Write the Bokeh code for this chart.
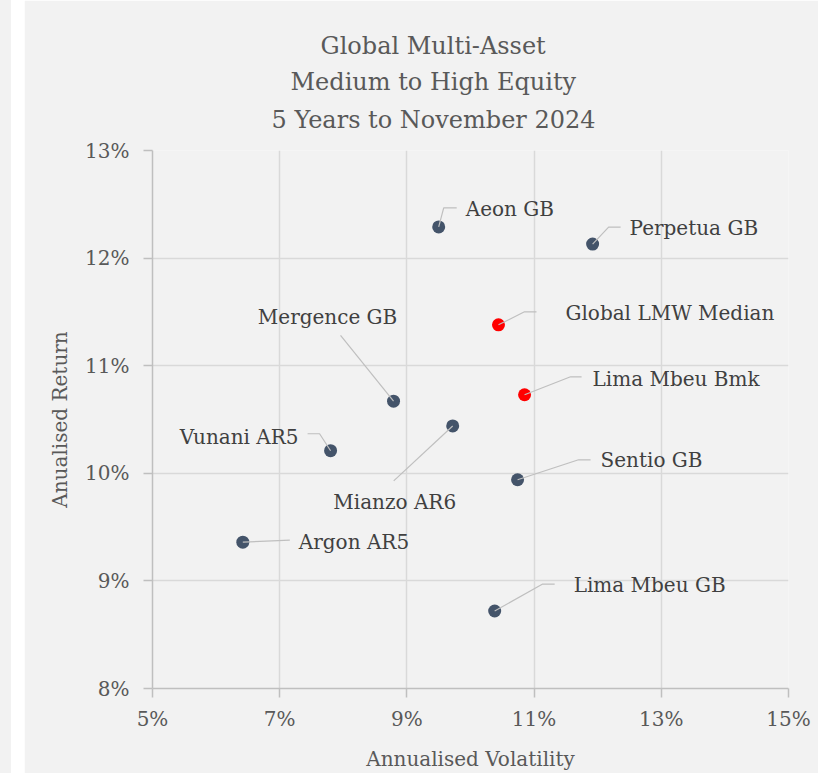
from bokeh.plotting import figure
from bokeh.models import ColumnDataSource, Title, FixedTicker, PrintfTickFormatter, Spacer
from bokeh.layouts import row
from bokeh.core.properties import value
from bokeh.embed import file_html
from bokeh.resources import INLINE

# ---- data ----
names = ["Aeon GB", "Perpetua GB", "Global LMW Median", "Lima Mbeu Bmk", "Mergence GB",
         "Mianzo AR6", "Vunani AR5", "Sentio GB", "Argon AR5", "Lima Mbeu GB"]
volatility = [9.50, 11.92, 10.44, 10.85, 8.79, 9.72, 7.80, 10.74, 6.42, 10.38]
returns = [12.29, 12.13, 11.38, 10.73, 10.67, 10.44, 10.21, 9.94, 9.36, 8.72]
is_reference = [False, False, True, True, False, False, False, False, False, False]

x_ticks = [5, 7, 9, 11, 13, 15]
y_ticks = [8, 9, 10, 11, 12, 13]
title_lines = ["Global Multi-Asset", "Medium to High Equity", "5 Years to November 2024"]
x_title = "Annualised Volatility"
y_title = "Anualised Return"

# ---- styling / label layout (pixel offsets from each point, screen y down) ----
label_offsets = [(27, -18), (37, -16), (67, -12), (68, -16), (-66, -84),
                 (-58, 76), (-32, -14), (83, -20), (56, 0), (79, -26)]
label_align = ["left", "left", "left", "left", "center",
               "center", "right", "left", "left", "left"]
leader_paths = [
    [(0, 0), (5, -19), (18, -19)],
    [(0, 0), (16, -17), (28, -17)],
    [(0, 0), (26, -13), (38, -13)],
    [(0, 0), (46, -18), (57, -18)],
    [(0, 0), (-53, -66)],
    [(0, 0), (-59, 55)],
    [(0, 0), (-11, -17), (-23, -17)],
    [(0, 0), (61, -20), (73, -20)],
    [(0, 0), (47, -2)],
    [(0, 0), (48, -27), (60, -27)],
]
# title line placement: (left offset from frame, standoff), listed top to bottom
title_place = [(168, 30), (138, -17), (119, 33)]

FONT = "DejaVu Serif"
W, H = 794, 773
ML, MR, MT, MB = 128, 30, 150, 84
XMIN, XMAX, YMIN, YMAX = 5, 15, 8, 13
FW, FH = W - ML - MR, H - MT - MB
XPX = FW / (XMAX - XMIN)
YPX = FH / (YMAX - YMIN)
BG = "#f2f2f2"

p = figure(width=W, height=H, output_backend="svg", toolbar_location=None, title=None,
           x_range=(XMIN, XMAX), y_range=(YMIN, YMAX),
           min_border_left=ML, min_border_right=MR, min_border_top=MT, min_border_bottom=MB)
p.background_fill_color = BG
p.border_fill_color = BG
p.outline_line_color = None

for ax, ticks in ((p.xaxis, x_ticks), (p.yaxis, y_ticks)):
    ax.ticker = FixedTicker(ticks=ticks)
    ax.formatter = PrintfTickFormatter(format="%d%%")
    ax.axis_line_color = "#bfbfbf"
    ax.axis_line_width = 1.5
    ax.major_tick_line_color = "#bfbfbf"
    ax.major_tick_line_width = 1.5
    ax.major_tick_out = 9
    ax.major_tick_in = 0
    ax.minor_tick_line_color = None
    ax.major_label_text_font = FONT
    ax.major_label_text_font_size = "20px"
    ax.major_label_text_color = "#595959"
    ax.axis_label_text_font = FONT
    ax.axis_label_text_font_size = "20px"
    ax.axis_label_text_color = "#595959"
    ax.axis_label_text_font_style = "normal"
    ax.axis_label_text_line_height = 1.0
p.xaxis.major_label_text_line_height = 1.0
p.xaxis.major_label_standoff = 9
p.yaxis.major_label_standoff = 14
p.xaxis.axis_label = x_title
p.yaxis.axis_label = y_title
p.xaxis.axis_label_standoff = 13
p.yaxis.axis_label_standoff = 10

p.xgrid.ticker = FixedTicker(ticks=x_ticks)
p.ygrid.ticker = FixedTicker(ticks=y_ticks)
for g in (p.xgrid, p.ygrid):
    g.grid_line_color = "#d9d9d9"
    g.grid_line_width = 1.5

colors = ["#ff0000" if r else "#44546a" for r in is_reference]
src = ColumnDataSource(dict(x=volatility, y=returns, name=names, color=colors,
                            dx=[o[0] for o in label_offsets], dy=[o[1] for o in label_offsets],
                            align=label_align))

p.scatter("x", "y", source=src, size=13, fill_color="color", line_color=None)

xs = [[v + dx / XPX for dx, dy in path] for v, path in zip(volatility, leader_paths)]
ys = [[r - dy / YPX for dx, dy in path] for r, path in zip(returns, leader_paths)]
p.multi_line(xs, ys, line_color="#bfbfbf", line_width=1.2)

p.text("x", "y", text="name", source=src, x_offset="dx", y_offset="dy",
       text_align="align", text_baseline="middle", text_font=value(FONT),
       text_font_size="20px", text_color="#404040")

# title lines, added nearest-to-frame first
for t, (off, so) in zip(reversed(title_lines), reversed(title_place)):
    p.add_layout(Title(text=t, align="left", offset=off, standoff=so, text_font=FONT,
                       text_font_size="24px", text_font_style="normal", text_color="#595959"), "above")

strip_gray = Spacer(width=11, height=H, styles={"background-color": BG})
strip_white = Spacer(width=13, height=H, styles={"background-color": "#ffffff"})
layout = row(strip_gray, strip_white, p, spacing=0)

open("out.html", "w").write(file_html(layout, INLINE))
